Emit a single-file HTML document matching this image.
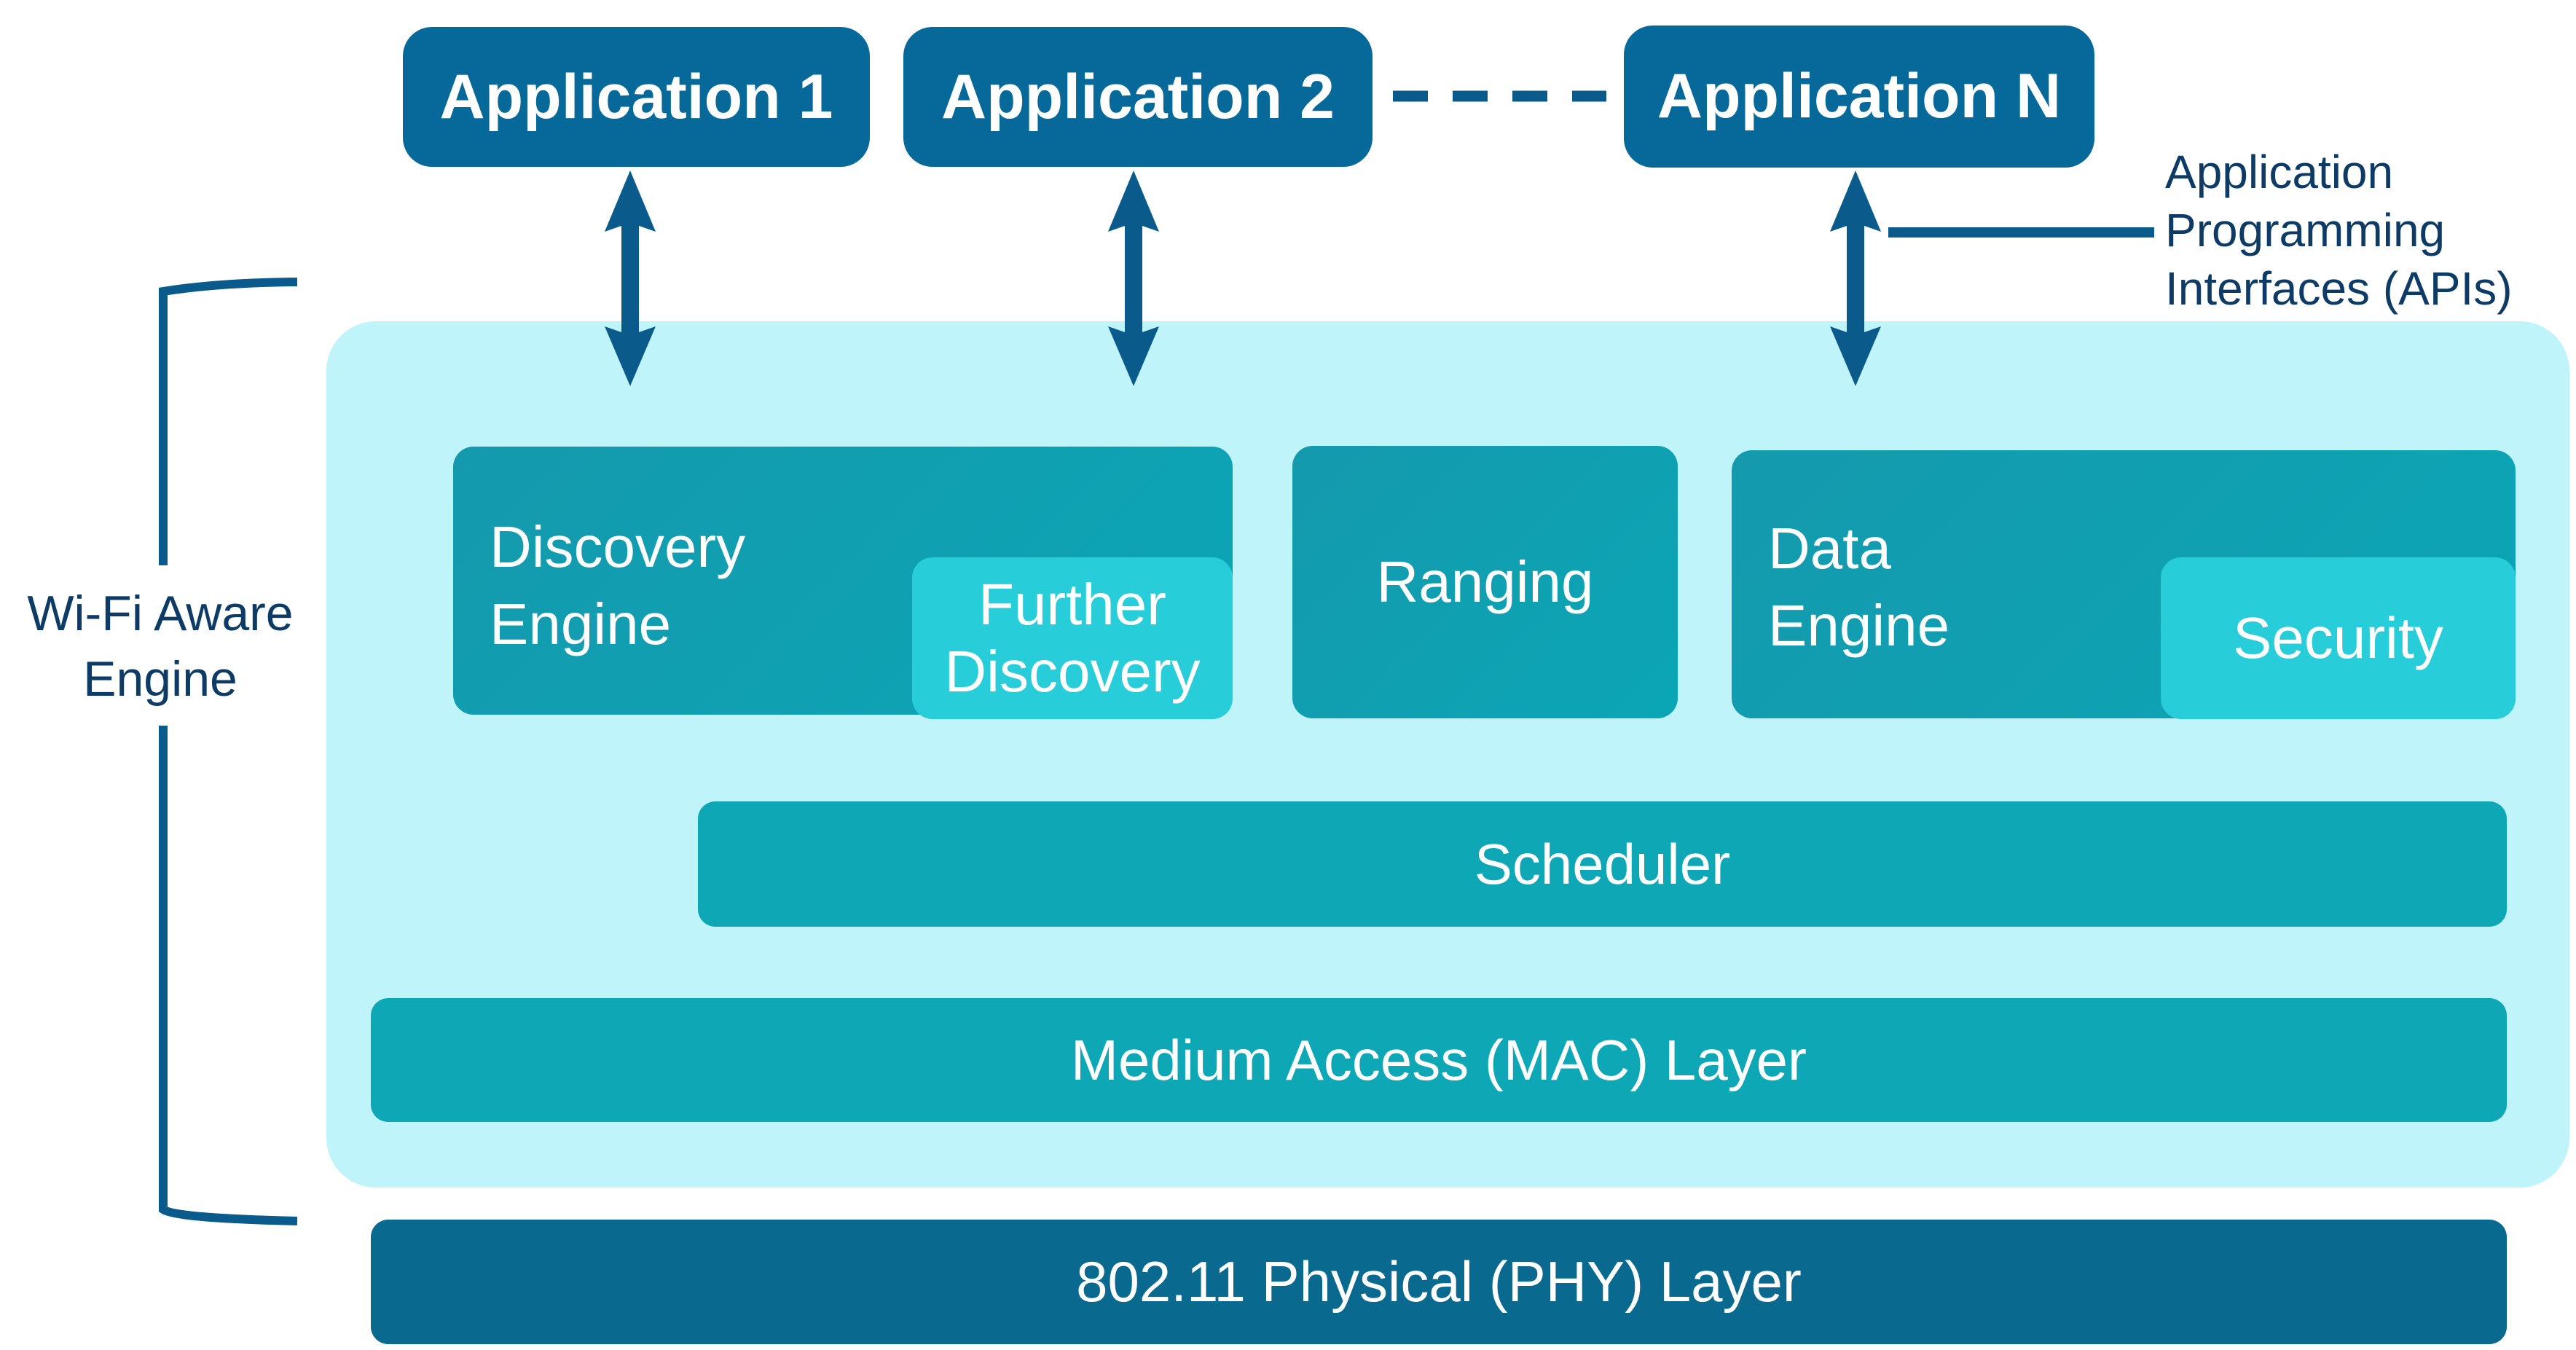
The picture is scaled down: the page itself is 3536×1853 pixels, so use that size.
<!DOCTYPE html>
<html><head><meta charset="utf-8"><style>
body{margin:0;width:3536px;height:1853px;background:#fff;position:relative;overflow:hidden;font-family:"Liberation Sans",sans-serif}
.a{position:absolute;box-sizing:border-box}
.app{background:#06699a;border-radius:40px;color:#fff;font-weight:bold;font-size:86px;display:flex;align-items:center;justify-content:center}
.mod{background:linear-gradient(135deg,#1599ad,#0aa6b6);border-radius:28px;color:#fff;font-size:80px}
.sub{background:#27cdd8;border-radius:28px;color:#fff;font-size:80px;display:flex;align-items:center;justify-content:center;text-align:center;line-height:1.15}
.bar{background:#0ea7b6;border-radius:24px;color:#fff;font-size:78px;display:flex;align-items:center;justify-content:center}
.t{color:#0d3b66;font-size:68px;line-height:80px}
</style></head><body>
<div class="a app" style="left:553px;top:37px;width:641px;height:192px">Application 1</div>
<div class="a app" style="left:1240px;top:37px;width:644px;height:192px">Application 2</div>
<div class="a app" style="left:2229px;top:35px;width:646px;height:195px">Application N</div>

<div class="a" style="left:448px;top:441px;width:3079px;height:1189px;background:#bff4fa;border-radius:68px"></div>

<div class="a mod" style="left:622px;top:613px;width:1070px;height:368px"><div style="position:absolute;left:50px;top:85px;line-height:106px">Discovery<br>Engine</div></div>
<div class="a sub" style="left:1252px;top:765px;width:440px;height:222px">Further<br>Discovery</div>
<div class="a mod" style="left:1774px;top:612px;width:529px;height:374px;display:flex;align-items:center;justify-content:center">Ranging</div>
<div class="a mod" style="left:2377px;top:618px;width:1076px;height:368px"><div style="position:absolute;left:50px;top:82px;line-height:106px">Data<br>Engine</div></div>
<div class="a sub" style="left:2966px;top:765px;width:487px;height:222px">Security</div>

<div class="a bar" style="left:958px;top:1100px;width:2483px;height:172px">Scheduler</div>
<div class="a bar" style="left:509px;top:1370px;width:2932px;height:170px">Medium Access (MAC) Layer</div>
<div class="a bar" style="left:509px;top:1674px;width:2932px;height:171px;background:#09698f">802.11 Physical (PHY) Layer</div>

<svg class="a" style="left:0;top:0" width="3536" height="1853">
<g fill="#0a5b8c">
<path d="M865 234 L900 318 L877 310 L877 456 L900 448 L865 530 L830 448 L853 456 L853 310 L830 318 Z"/>
<path d="M1556 234 L1591 318 L1568 310 L1568 456 L1591 448 L1556 530 L1521 448 L1544 456 L1544 310 L1521 318 Z"/>
<path d="M2547 234 L2582 318 L2559 310 L2559 456 L2582 448 L2547 530 L2512 448 L2535 456 L2535 310 L2512 318 Z"/>
</g>
<line x1="1912" y1="132" x2="2205" y2="132" stroke="#0a5b8c" stroke-width="15" stroke-dasharray="48,34"/>
<line x1="2592" y1="319" x2="2957" y2="319" stroke="#0a5b8c" stroke-width="14"/>
<path d="M408 387 Q300 388 224 400 L224 776 M224 996 L224 1660 Q240 1672 408 1676" fill="none" stroke="#0a5b8c" stroke-width="12"/>
</svg>
<div class="a t" style="left:2972px;top:196px;font-size:64px">Application<br>Programming<br>Interfaces (APIs)</div>
<div class="a t" style="left:0;top:797px;width:440px;text-align:center;line-height:90px">Wi-Fi Aware<br>Engine</div>
</body></html>
